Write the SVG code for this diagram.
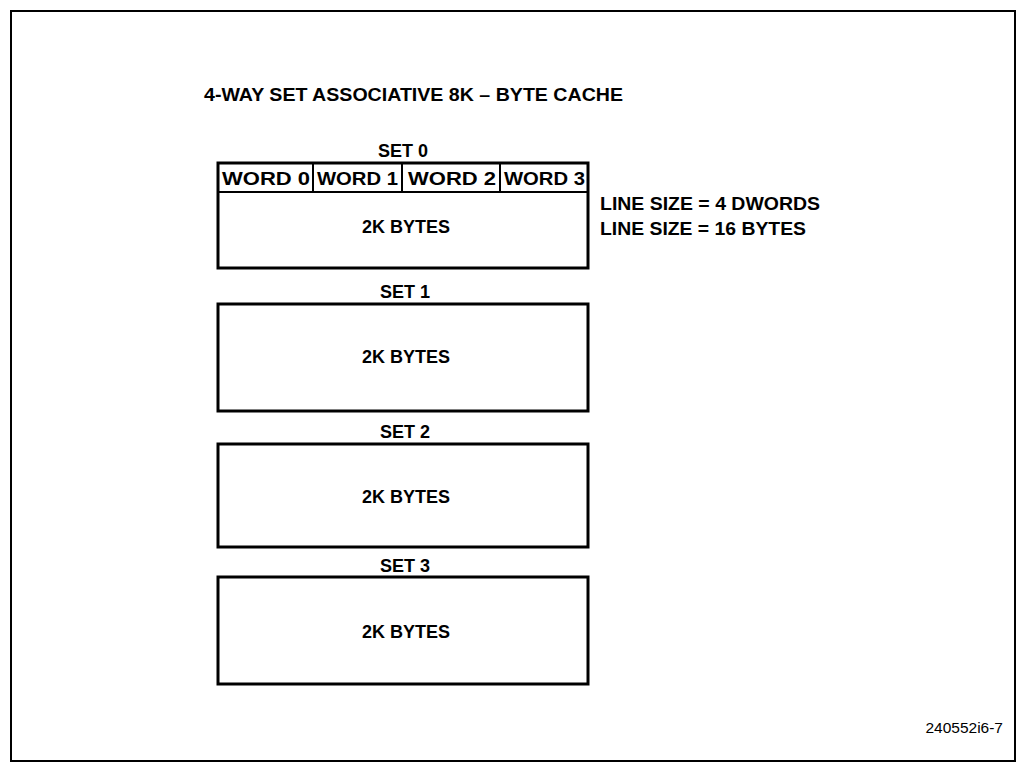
<svg xmlns="http://www.w3.org/2000/svg" width="1018" height="764" viewBox="0 0 1018 764">
<style>
.t{font-family:"Liberation Sans",Arial,sans-serif;font-weight:bold;font-size:18px;fill:#000}
.c{text-anchor:middle}
.box{fill:#fff;stroke:#000;stroke-width:3}
.thin{stroke:#000;stroke-width:2;fill:none}
</style>
<rect width="1018" height="764" fill="#fff"/>
<rect x="11" y="11" width="1004" height="750" fill="none" stroke="#000" stroke-width="2"/>
<text class="t" x="204" y="101" textLength="419" lengthAdjust="spacingAndGlyphs">4-WAY SET ASSOCIATIVE 8K – BYTE CACHE</text>
<g id="set0">
<text class="t c" x="403" y="157">SET 0</text>
<rect class="box" x="218" y="163" width="370" height="105"/>
<line class="thin" x1="218" y1="192" x2="588" y2="192"/>
<line class="thin" x1="313" y1="163" x2="313" y2="192"/>
<line class="thin" x1="402" y1="163" x2="402" y2="192"/>
<line class="thin" x1="500" y1="163" x2="500" y2="192"/>
<text class="t" x="222" y="185" textLength="88" lengthAdjust="spacingAndGlyphs">WORD 0</text>
<text class="t" x="317" y="185" textLength="81" lengthAdjust="spacingAndGlyphs">WORD 1</text>
<text class="t" x="408" y="185" textLength="88" lengthAdjust="spacingAndGlyphs">WORD 2</text>
<text class="t" x="504" y="185" textLength="81" lengthAdjust="spacingAndGlyphs">WORD 3</text>
<text class="t c" x="406" y="233">2K BYTES</text>
</g>
<g id="linesize">
<text class="t" x="600" y="210" textLength="220" lengthAdjust="spacingAndGlyphs">LINE SIZE = 4 DWORDS</text>
<text class="t" x="600" y="235" textLength="206" lengthAdjust="spacingAndGlyphs">LINE SIZE = 16 BYTES</text>
</g>
<g id="set1">
<text class="t c" x="405" y="298">SET 1</text>
<rect class="box" x="218" y="304" width="370" height="107"/>
<text class="t c" x="406" y="363">2K BYTES</text>
</g>
<g id="set2">
<text class="t c" x="405" y="438">SET 2</text>
<rect class="box" x="218" y="444" width="370" height="103"/>
<text class="t c" x="406" y="503">2K BYTES</text>
</g>
<g id="set3">
<text class="t c" x="405" y="572">SET 3</text>
<rect class="box" x="218" y="577" width="370" height="107"/>
<text class="t c" x="406" y="638">2K BYTES</text>
</g>
<g id="connectors"></g>
<text x="1003" y="733" text-anchor="end" style="font-family:'Liberation Sans',Arial,sans-serif;font-size:15.5px;fill:#000">240552i6-7</text>
</svg>
